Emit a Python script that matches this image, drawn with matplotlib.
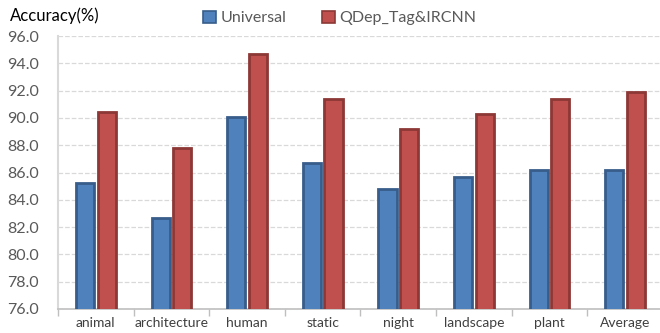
import numpy as np
import matplotlib.pyplot as plt
from matplotlib.patches import Patch

categories = ["animal", "architecture", "human", "static", "night",
              "landscape", "plant", "Average"]
universal = [85.2, 82.7, 90.1, 86.7, 84.8, 85.7, 86.2, 86.2]
qdep = [90.4, 87.8, 94.7, 91.4, 89.2, 90.3, 91.4, 91.9]
yticks = np.arange(76.0, 96.1, 2.0)

plt.rcParams['font.family'] = ['Lato', 'DejaVu Sans']

fig = plt.figure(figsize=(6.6, 3.33), dpi=100)
ax = fig.add_axes([58 / 660, 1 - 309 / 333, 605 / 660, 273 / 333])

x = np.arange(len(categories))
w = 0.24
off = 0.143
ax.bar(x - off, universal, w, color="#4F81BD", edgecolor="#385D8A",
       linewidth=2, zorder=3)
ax.bar(x + off, qdep, w, color="#C0504D", edgecolor="#8C3836",
       linewidth=2, zorder=3)

ax.set_ylim(76, 96)
ax.set_xlim(-0.5, len(categories) - 0.5)
ax.set_yticks(yticks)
ax.set_yticklabels([f"{v:.1f}" for v in yticks], fontsize=11.5, color="#595959")
ax.yaxis.grid(True, linestyle="--", color="#D9D9D9", linewidth=0.9, zorder=0)
ax.tick_params(axis="y", length=0, pad=14)

ax.set_xticks(x)
ax.set_xticklabels(categories, fontsize=10, color="#404040")
ax.tick_params(axis="x", length=0, pad=6)
ax.set_xticks(np.arange(-0.5, len(categories), 1), minor=True)
ax.tick_params(axis="x", which="minor", length=5, color="#BFBFBF", width=1)

for s in ["top", "right"]:
    ax.spines[s].set_visible(False)
ax.spines["left"].set_color("#D9D9D9")
ax.spines["left"].set_linewidth(1.5)
ax.spines["bottom"].set_color("#BFBFBF")
ax.spines["bottom"].set_linewidth(1.2)

fig.text(10 / 660, 1 - 16 / 333, "Accuracy(%)", fontsize=12, color="black",
         va="center", ha="left")

handles = [Patch(facecolor="#4F81BD", edgecolor="#385D8A", linewidth=1.2),
           Patch(facecolor="#C0504D", edgecolor="#8C3836", linewidth=1.2)]
fig.legend(handles, ["Universal", "QDep_Tag&IRCNN"], loc="center",
           bbox_to_anchor=(340 / 660, 1 - 18 / 333), ncol=2, frameon=False,
           fontsize=11.5, handlelength=0.8, handleheight=0.8, handletextpad=0.3,
           columnspacing=2.2, labelcolor="#595959")

fig.savefig("out.png", dpi=100)
